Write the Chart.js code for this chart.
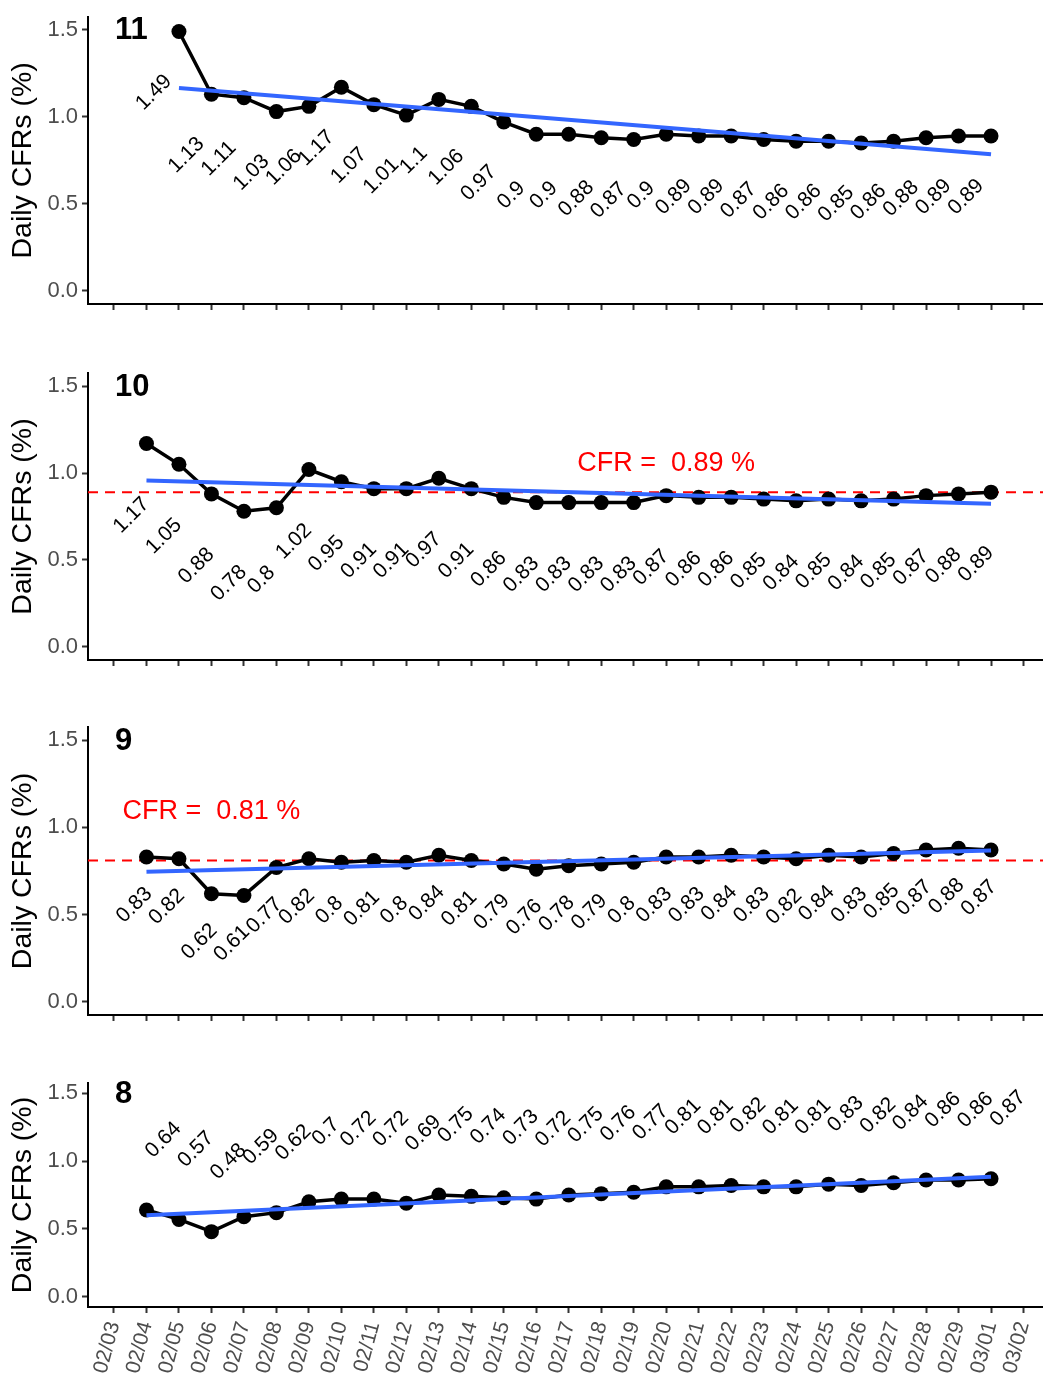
<!DOCTYPE html>
<html>
<head>
<meta charset="utf-8">
<title>Daily CFRs</title>
<script src="https://cdn.jsdelivr.net/npm/chart.js@4.4.0/dist/chart.umd.min.js"></script>
<style>
  body { margin: 0; background: #fff; overflow: hidden; }
  #wrap { position: relative; width: 1043px; height: 1376px; overflow: hidden; }
  canvas { position: absolute; left: 0; }
</style>
</head>
<body>
<div id="wrap">
  <canvas id="c11" width="1043" height="356" style="top:0px"></canvas>
  <canvas id="c10" width="1043" height="356" style="top:356px"></canvas>
  <canvas id="c9" width="1043" height="356" style="top:712px"></canvas>
  <canvas id="c8" width="1043" height="308" style="top:1068px"></canvas>
</div>
<script>
// ==============================
// Data
// ==============================
const dates = ["02/03","02/04","02/05","02/06","02/07","02/08","02/09","02/10","02/11","02/12",
  "02/13","02/14","02/15","02/16","02/17","02/18","02/19","02/20","02/21","02/22","02/23",
  "02/24","02/25","02/26","02/27","02/28","02/29","03/01","03/02"];
const yTicks = [0, 0.5, 1.0, 1.5];

const cfr11 = [1.49,1.13,1.11,1.03,1.06,1.17,1.07,1.01,1.1,1.06,0.97,0.9,0.9,0.88,0.87,0.9,
  0.89,0.89,0.87,0.86,0.86,0.85,0.86,0.88,0.89,0.89];
const cfr10 = [1.17,1.05,0.88,0.78,0.8,1.02,0.95,0.91,0.91,0.97,0.91,0.86,0.83,0.83,0.83,0.83,
  0.87,0.86,0.86,0.85,0.84,0.85,0.84,0.85,0.87,0.88,0.89];
const cfr9 = [0.83,0.82,0.62,0.61,0.77,0.82,0.8,0.81,0.8,0.84,0.81,0.79,0.76,0.78,0.79,0.8,
  0.83,0.83,0.84,0.83,0.82,0.84,0.83,0.85,0.87,0.88,0.87];
const cfr8 = [0.64,0.57,0.48,0.59,0.62,0.7,0.72,0.72,0.69,0.75,0.74,0.73,0.72,0.75,0.76,0.77,
  0.81,0.81,0.82,0.81,0.81,0.83,0.82,0.84,0.86,0.86,0.87];

// blue fitted line, value at first and last day
const fit11 = [1.165, 0.785];
const fit10 = [0.957, 0.824];
const fit9 = [0.745, 0.867];
const fit8 = [0.60, 0.885];

// overall CFR (red dashed line)
const overall10 = 0.89;
const overall9 = 0.81;

const FONT = "'Liberation Sans', Arial, sans-serif";

// ==============================
// Panels
// ==============================
const panels = [
  { id: "c11", num: "11", values: cfr11, start: "02/05", fit: fit11, cfr: null,
    top: 16.7, xh: 52, showX: false, dx: -25, dy: 61 },
  { id: "c10", num: "10", values: cfr10, start: "02/04", fit: fit10, cfr: overall10, cfrAt: [17.0, 1.053],
    top: 17, xh: 52, showX: false, dx: -15, dy: 72 },
  { id: "c9", num: "9", values: cfr9, start: "02/04", fit: fit9, cfr: overall9, cfrAt: [3, 1.089],
    top: 15, xh: 53, showX: false, dx: -12, dy: 48 },
  { id: "c8", num: "8", values: cfr8, start: "02/04", fit: fit8, cfr: null,
    top: 15, xh: 69, showX: true, dx: 17, dy: -70 }
];

const decoPlugin = {
  id: "deco",
  beforeDatasetsDraw(chart, args, o) {
    if (o.cfr == null) return;
    const ctx = chart.ctx, a = chart.chartArea;
    const y = chart.scales.y.getPixelForValue(o.cfr);
    ctx.save();
    ctx.strokeStyle = "#FF0000";
    ctx.lineWidth = 2;
    ctx.setLineDash([10, 7]);
    ctx.beginPath();
    ctx.moveTo(a.left, y);
    ctx.lineTo(a.right, y);
    ctx.stroke();
    ctx.restore();
  },
  afterDatasetsDraw(chart, args, o) {
    const ctx = chart.ctx;
    const xs = chart.scales.x, ys = chart.scales.y;
    const meta = chart.getDatasetMeta(0);
    const vals = chart.data.datasets[0].data;
    ctx.save();
    // value labels
    ctx.fillStyle = "#000";
    ctx.font = "21px " + FONT;
    ctx.textAlign = "center";
    ctx.textBaseline = "middle";
    meta.data.forEach((pt, i) => {
      ctx.save();
      ctx.translate(pt.x + o.dx, pt.y + o.dy);
      ctx.rotate(-Math.PI / 4);
      ctx.fillText(String(vals[i].y), 0, 0);
      ctx.restore();
    });
    // panel number
    ctx.font = "bold 31px " + FONT;
    ctx.textAlign = "left";
    ctx.fillText(o.num, xs.getPixelForValue(0) + 1, ys.getPixelForValue(1.5) + 1);
    // CFR text
    if (o.cfr != null) {
      ctx.fillStyle = "#FF0000";
      ctx.font = "27px " + FONT;
      ctx.textAlign = "center";
      ctx.fillText("CFR =  " + o.cfr + " %", xs.getPixelForValue(o.cfrAt[0]), ys.getPixelForValue(o.cfrAt[1]));
    }
    ctx.restore();
  }
};

panels.forEach(p => {
  const s = dates.indexOf(p.start);
  const pts = p.values.map((v, i) => ({ x: s + i, y: v }));
  const fitPts = [
    { x: s, y: p.fit[0] },
    { x: s + p.values.length - 1, y: p.fit[1] }
  ];

  new Chart(document.getElementById(p.id), {
    type: "line",
    data: {
      datasets: [
        { data: pts, borderColor: "#000", borderWidth: 3.5, pointRadius: 7.5, pointBorderWidth: 0,
          pointBackgroundColor: "#000", order: 2, clip: false },
        { data: fitPts, borderColor: "#3366FF", borderWidth: 4, pointRadius: 0, order: 1, clip: false }
      ]
    },
    options: {
      responsive: false,
      animation: false,
      devicePixelRatio: 1,
      events: [],
      layout: { autoPadding: false, padding: { top: p.top, left: 0, right: 0, bottom: 0 } },
      plugins: {
        legend: { display: false },
        tooltip: { enabled: false },
        deco: { num: p.num, cfr: p.cfr, cfrAt: p.cfrAt, dx: p.dx, dy: p.dy }
      },
      scales: {
        x: {
          type: "linear",
          min: -0.8,
          max: 28.6,
          afterBuildTicks: sc => { sc.ticks = dates.map((d, i) => ({ value: i })); },
          afterFit: sc => { sc.height = p.xh; sc.paddingLeft = 0; sc.paddingRight = 0; },
          grid: { drawOnChartArea: false, drawTicks: true, tickLength: 6, tickColor: "#333", tickWidth: 2 },
          border: { display: true, color: "#000", width: 2 },
          ticks: {
            display: p.showX,
            autoSkip: false,
            minRotation: 75,
            maxRotation: 75,
            padding: 6,
            color: "#4D4D4D",
            font: { family: FONT, size: 21 },
            callback: v => dates[v]
          }
        },
        y: {
          min: -0.075,
          max: 1.575,
          afterBuildTicks: sc => { sc.ticks = yTicks.map(v => ({ value: v })); },
          afterFit: sc => { sc.width = 88; sc.paddingTop = 0; sc.paddingBottom = 0; },
          grid: { drawOnChartArea: false, drawTicks: true, tickLength: 6, tickColor: "#333", tickWidth: 2 },
          border: { display: true, color: "#000", width: 2 },
          ticks: {
            padding: 4,
            color: "#4D4D4D",
            font: { family: FONT, size: 22 },
            callback: v => v.toFixed(1)
          },
          title: {
            display: true,
            text: "Daily CFRs (%)",
            color: "#000",
            font: { family: FONT, size: 28.5 },
            padding: { top: 6, bottom: 0 }
          }
        }
      }
    },
    plugins: [decoPlugin]
  });
});
</script>
</body>
</html>
